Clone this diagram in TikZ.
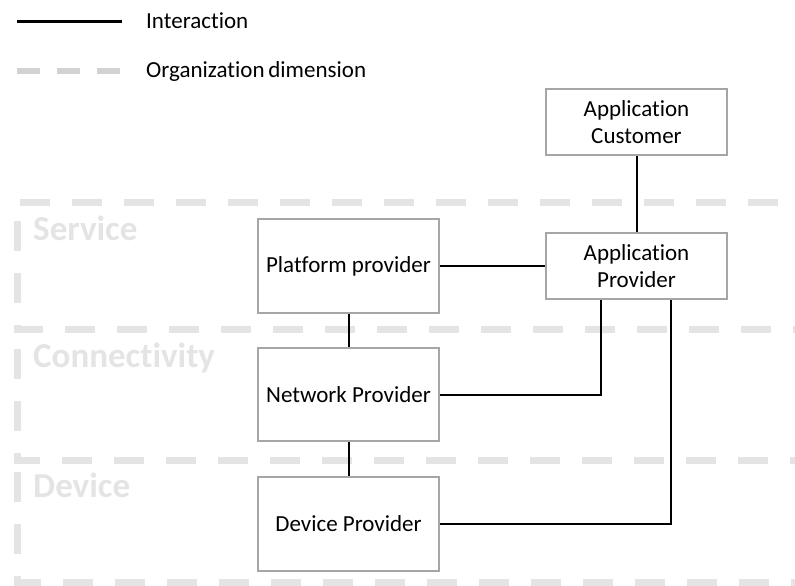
\documentclass[tikz,border=0pt]{standalone}
\usepackage{fontspec}
\setmainfont[Ligatures={NoCommon}]{Carlito}
\begin{document}
\begin{tikzpicture}[x=1pt,y=-1pt,
  box/.style={draw=boxgray, line width=2.5pt, fill=white, align=center,
    minimum width=181pt, inner sep=2pt,
    font=\fontsize{23}{27}\selectfont},
  conn/.style={draw=black, line width=2pt},
  zone/.style={draw=zonegray, line width=7pt, dash pattern=on 30pt off 22pt},
  zonelabel/.style={anchor=base west, text=zonegray, inner sep=0pt,
    font=\fontsize{35}{40}\selectfont\bfseries},
  legendtext/.style={anchor=west, inner sep=0pt, font=\fontsize{23}{27}\selectfont}]
\definecolor{boxgray}{HTML}{A6A6A6}
\definecolor{zonegray}{HTML}{E4E4E4}
\definecolor{legendgray}{HTML}{D2D2D2}
\useasboundingbox (0,0) rectangle (795,586);
\clip (0,0) rectangle (795,586);

% organisation layers
\draw[zone] (830,202) -- (17,202) -- (17,329) -- (830,329);
\draw[zone] (17,349) -- (17,460) -- (830,460);
\draw[zone] (17,472) -- (17,582) -- (830,582);
\node[zonelabel] (lservice) at (33,240) {Service};
\node[zonelabel] (lconn) at (33,367) {Connectivity};
\node[zonelabel] (ldevice) at (33,497) {Device};

% legend
\coordinate (la) at (17,22);
\coordinate (lb) at (122,22);
\draw[line width=3pt] (la) -- (lb);
\node[legendtext] (tinter) at (146,21) {Interaction};
\coordinate (lc) at (17,71);
\coordinate (ld) at (122,71);
\draw[draw=legendgray, line width=6pt, dash pattern=on 23pt off 17pt] (lc) -- (ld);
\node[legendtext] (torg) at (146,71) {Organization\,dimension};

% actors
\node[box, minimum height=66pt] (cust) at (636.5,122) {Application\\Customer};
\node[box, minimum height=94pt] (plat) at (348.5,266) {Platform provider};
\node[box, minimum height=66pt] (app) at (636.5,266) {Application\\Provider};
\node[box, minimum height=93pt] (net) at (348.5,394.5) {Network Provider};
\node[box, minimum height=94pt] (dev) at (348.5,524) {Device Provider};

% interactions
\draw[conn] (cust) -- (app);
\draw[conn] (plat) -- (app);
\draw[conn] (plat) -- (net);
\draw[conn] (net) -- (dev);
\draw[conn] ([xshift=-35.5pt]app.south) |- (net.east);
\draw[conn] ([xshift=34.5pt]app.south) |- (dev.east);
\end{tikzpicture}
\end{document}
